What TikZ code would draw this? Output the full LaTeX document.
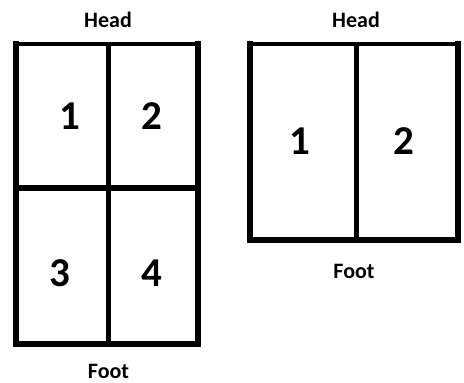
\documentclass[tikz,border=0pt]{standalone}
\usepackage{fontspec}
\setmainfont{Carlito}
\begin{document}
\begin{tikzpicture}[x=1pt,y=-1pt,
  frame/.style={line width=6pt,line cap=rect},
  toplinestyle/.style={line width=4pt},
  divider/.style={line width=5pt},
  lbl/.style={anchor=base,inner sep=0pt,font=\bfseries\fontsize{22}{22}\selectfont},
  num/.style={anchor=base,inner sep=0pt,font=\bfseries\fontsize{41}{41}\selectfont}]
\useasboundingbox[fill=white] (0,0) rectangle (464,383);
% left sheet
\draw[frame] (16,44) -- (16,344) -- (198,344) -- (198,44);
\draw[toplinestyle] (13,44) -- (201,44);
\draw[divider] (108.5,44) -- (108.5,344);
\draw[frame,line cap=butt] (16,188) -- (198,188);
% right sheet
\draw[frame] (250,44) -- (250,240) -- (458,240) -- (458,44);
\draw[toplinestyle] (247,44) -- (461,44);
\draw[divider] (356,44) -- (356,240);
% labels
\node[lbl] (headL) at (108,27) {Head};
\node[lbl] (footL) at (108.5,378.5) {Foot};
\node[lbl] (headR) at (356,27) {Head};
\node[lbl] (footR) at (354,278) {Foot};
\node[num] (n1L) at (70,129) {1};
\node[num] (n2L) at (152,129) {2};
\node[num] (n3L) at (60,286) {3};
\node[num] (n4L) at (152,286) {4};
\node[num] (n1R) at (300,154) {1};
\node[num] (n2R) at (404,154) {2};
\end{tikzpicture}
\end{document}
